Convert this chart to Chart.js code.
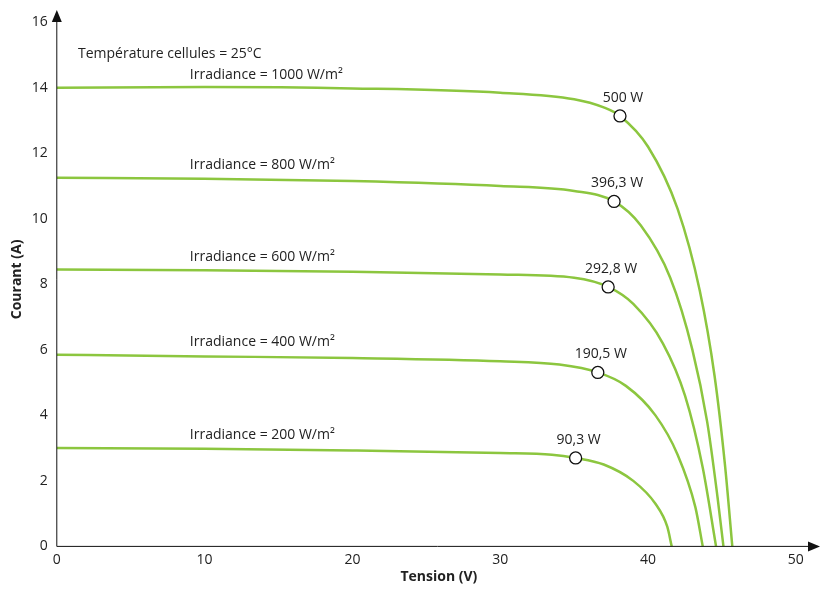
<!DOCTYPE html>
<html><head><meta charset="utf-8">
<script src="https://cdn.jsdelivr.net/npm/chart.js@4"></script>
<style>body{margin:0;background:#fff}#wrap{width:831px;height:601px}</style>
</head><body><div id="wrap"><canvas id="myChart"></canvas></div>
<script>
// curves: [tension V, current A]
const curve1000 = [[0,14.0],[10,14.02],[20,13.98],[30,13.85],[35,13.65],[37,13.4],[38.1,13.14],[40,12.2],[42,10.3],[43.5,7.8],[44.5,5.2],[45.2,2.5],[45.7,0]];
const curve800 = [[0,11.25],[10,11.22],[20,11.15],[30,11.0],[35,10.85],[37.7,10.53],[39.5,9.8],[41.5,8.2],[43,6.0],[44,3.8],[44.7,1.5],[45.1,0]];
const curve600 = [[0,8.45],[10,8.43],[20,8.38],[30,8.3],[35,8.2],[37.3,7.92],[39,7.4],[41,6.2],[42.5,4.6],[43.7,2.4],[44.6,0]];
const curve400 = [[0,5.85],[10,5.8],[20,5.75],[30,5.65],[34,5.55],[36.6,5.31],[38.5,4.9],[40.5,4.0],[42,2.8],[43.2,1.2],[43.7,0]];
const curve200 = [[0,3.0],[10,2.98],[20,2.93],[30,2.85],[33.5,2.8],[35.1,2.70],[37,2.5],[39,2.0],[40.5,1.3],[41.3,0.6],[41.6,0]];
const curves = [curve1000, curve800, curve600, curve400, curve200];
const irradianceLabels = ['Irradiance = 1000 W/m²','Irradiance = 800 W/m²','Irradiance = 600 W/m²','Irradiance = 400 W/m²','Irradiance = 200 W/m²'];
const mppPoints = [[38.1,13.14],[37.7,10.53],[37.3,7.92],[36.6,5.31],[35.1,2.70]];
const mppLabels = ['500 W','396,3 W','292,8 W','190,5 W','90,3 W'];
const xTicks = [0,10,20,30,40,50];

const green = '#8cc63f';
const font = '"Open Sans", sans-serif';

const datasets = curves.map(c => ({
    type: 'line',
    order: 2,
    data: c.map(p => ({x: p[0], y: p[1]})),
    borderColor: green,
    borderWidth: 2.5,
    pointRadius: 0,
    cubicInterpolationMode: 'monotone',
    fill: false
}));
datasets.push({
    type: 'scatter',
    order: 1,
    data: mppPoints.map(p => ({x: p[0], y: p[1]})),
    backgroundColor: '#fff',
    borderColor: '#111',
    borderWidth: 1.3,
    pointRadius: 6
});

const annotations = {
    id: 'annotations',
    afterDraw(chart) {
        const ctx = chart.ctx;
        const xs = chart.scales.x, ys = chart.scales.y;
        ctx.save();
        ctx.fillStyle = '#222';
        ctx.font = '14px ' + font;
        ctx.textBaseline = 'alphabetic';
        ctx.fillText('Température cellules = 25°C', 78, 58);
        curves.forEach((c, i) => {
            ctx.textAlign = 'left';
            ctx.fillText(irradianceLabels[i], xs.getPixelForValue(9), ys.getPixelForValue(c[0][1]) - 9);
            const m = mppPoints[i];
            ctx.textAlign = 'center';
            ctx.fillText(mppLabels[i], xs.getPixelForValue(m[0]) + 3, ys.getPixelForValue(m[1]) - 14);
        });
        // axis arrows
        ctx.fillStyle = '#111';
        ctx.strokeStyle = '#111';
        ctx.lineWidth = 1;
        const x0 = xs.getPixelForValue(0), y0 = ys.getPixelForValue(0);
        ctx.beginPath(); ctx.moveTo(x0, y0); ctx.lineTo(x0, 12); ctx.stroke();
        ctx.beginPath(); ctx.moveTo(x0 - 5, 22); ctx.lineTo(x0, 10); ctx.lineTo(x0 + 5, 22); ctx.closePath(); ctx.fill();
        ctx.beginPath(); ctx.moveTo(x0, y0); ctx.lineTo(818, y0); ctx.stroke();
        ctx.beginPath(); ctx.moveTo(808, y0 - 5); ctx.lineTo(820, y0); ctx.lineTo(808, y0 + 5); ctx.closePath(); ctx.fill();
        ctx.restore();
    }
};

new Chart(document.getElementById('myChart'), {
    data: { datasets: datasets },
    options: {
        responsive: true,
        maintainAspectRatio: false,
        animation: false,
        layout: { padding: { top: 12, right: 10, left: 7, bottom: 16 } },
        plugins: { legend: { display: false }, tooltip: { enabled: false } },
        scales: {
            x: {
                type: 'linear', min: 0, max: 51.7,
                afterBuildTicks: s => { s.ticks = xTicks.map(v => ({value: v})); },
                grid: { display: false, drawTicks: true, tickLength: 5, tickColor: '#111' },
                border: { display: false },
                ticks: { color: '#222', font: { family: font, size: 14 }, padding: 0 },
                title: { display: true, text: 'Tension (V)', color: '#222', font: { family: font, size: 14, weight: 'bold' }, padding: 0 }
            },
            y: {
                min: 0, max: 16.3,
                afterBuildTicks: s => { s.ticks = [0,2,4,6,8,10,12,14,16].map(v => ({value: v})); },
                grid: { display: false, drawTicks: true, tickLength: 5, tickColor: '#111' },
                border: { display: false },
                ticks: { color: '#222', font: { family: font, size: 14 }, padding: 4 },
                title: { display: true, text: 'Courant (A)', color: '#222', font: { family: font, size: 14, weight: 'bold' }, padding: 2 }
            }
        }
    },
    plugins: [annotations]
});
</script>
</body></html>
